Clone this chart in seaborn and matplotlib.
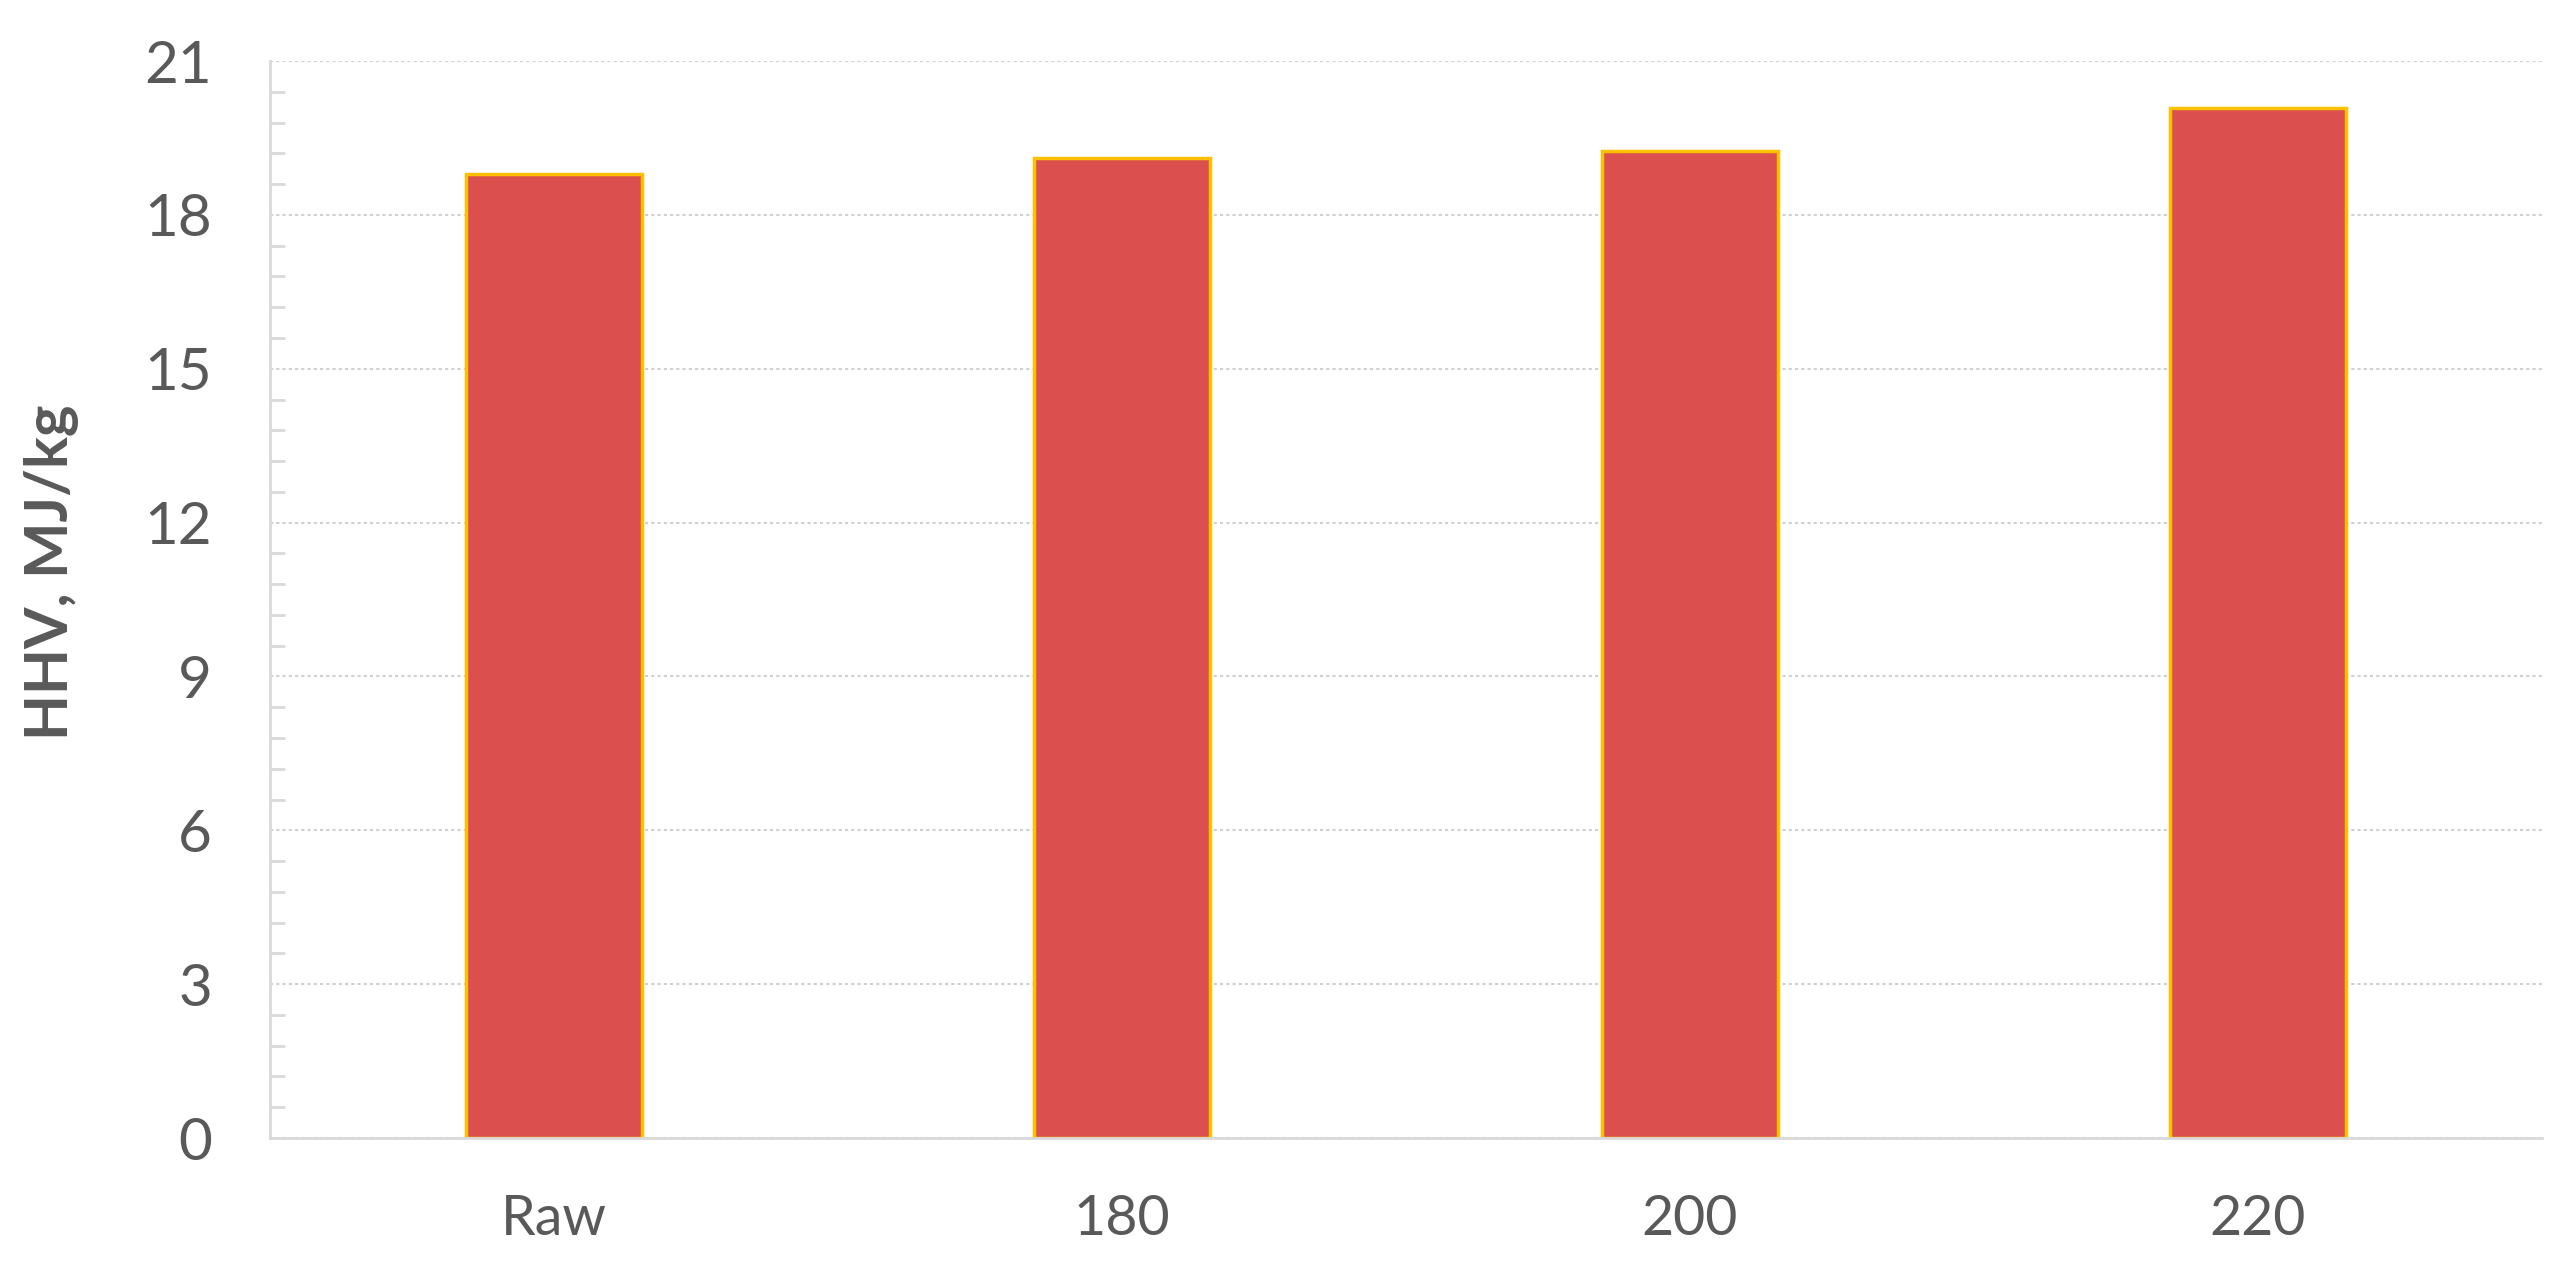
import matplotlib
matplotlib.use("Agg")
import matplotlib.pyplot as plt
import seaborn as sns
import pandas as pd
from matplotlib.ticker import MultipleLocator

# HHV of raw and hydrochar at three temperatures
categories = ["Raw", "180", "200", "220"]
hhv = [18.80, 19.10, 19.25, 20.08]

y_ticks = [0, 3, 6, 9, 12, 15, 18, 21]

df = pd.DataFrame({"sample": categories, "hhv": hhv})

sns.set_theme(style="white")
plt.rcParams["font.family"] = ["Lato", "DejaVu Sans"]

fig = plt.figure(figsize=(25.63, 12.69), dpi=100)
ax = fig.add_axes([0.1053, 0.1032, 0.8865, 0.8487])

sns.barplot(data=df, x="sample", y="hhv", ax=ax, color="#DB504E",
            saturation=1, width=0.31, edgecolor="#FFC000", linewidth=2.5)

ax.set_xlim(-0.5, 3.5)
ax.set_ylim(0, 21)
ax.set_yticks(y_ticks)
ax.yaxis.set_minor_locator(MultipleLocator(0.6))

ax.grid(axis="y", which="major", color="#d0d0d0", linestyle=(0, (1.5, 1.5)), linewidth=1.5)
ax.set_axisbelow(True)

for s in ["top", "right"]:
    ax.spines[s].set_visible(False)
ax.spines["left"].set_color("#d9d9d9")
ax.spines["bottom"].set_color("#d9d9d9")
ax.spines["left"].set_linewidth(2)
ax.spines["bottom"].set_linewidth(2)

ax.tick_params(axis="y", which="major", direction="inout", length=29, width=2,
               color="#d9d9d9", labelsize=42, labelcolor="#595959", pad=27)
ax.tick_params(axis="y", which="minor", direction="in", length=11, width=2,
               color="#d9d9d9", left=True)
ax.tick_params(axis="x", length=0, labelsize=40, labelcolor="#595959", pad=40)

ax.set_xlabel("")
ax.set_ylabel("HHV, MJ/kg", fontsize=43, fontweight="bold", color="#595959")
ax.yaxis.label.set_va("center")
ax.yaxis.set_label_coords(-0.096, 0.525)

fig.savefig("out.png", dpi=100)
